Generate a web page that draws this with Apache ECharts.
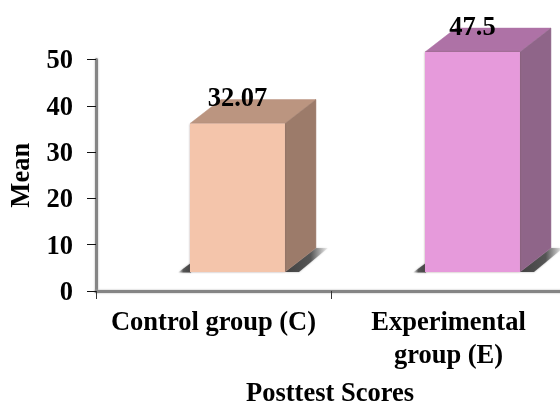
<!DOCTYPE html>
<html>
<head>
<meta charset="utf-8">
<style>html,body{margin:0;padding:0;background:#fff}#c{width:560px;height:401px}</style>
<script src="https://cdn.jsdelivr.net/npm/echarts@6/dist/echarts.min.js"></script>
</head>
<body>
<div id="c"></div>
<script>
const categories = ['Control group (C)', 'Experimental\ngroup (E)'];
const means = [32.07, 47.5];
const meanLabels = ['32.07', '47.5'];
const frontColors = ['#F4C5AB', '#E69ADB'];
const topColors = ['#BB9580', '#AE72A6'];
const sideColors = ['#9C7B6A', '#8F6589'];
const yTicks = [0, 10, 20, 30, 40, 50];

// The boxes stand on a raised floor in the oblique projection, so every
// front face starts a little above zero on the value axis.
const floorLift = 4.1;
const serif = '"Liberation Serif", "Times New Roman", serif';

// Floor shadow that fades out away from the box, x0 = 1 when it fades leftwards.
function shadowFill(x0) {
  return new echarts.graphic.LinearGradient(x0, 0, 1 - x0, 0, [
    { offset: 0, color: 'rgba(60,60,60,0.95)' },
    { offset: 0.6, color: 'rgba(70,70,70,0.85)' },
    { offset: 1, color: 'rgba(150,150,150,0.1)' }
  ]);
}

function renderBox(params, api) {
  const i = api.value(0);
  const band = api.size([1, 0])[0];
  const center = api.coord([i, 0])[0] + band * 0.102;
  const half = band * 0.202;
  const dx = 31, dy = 24;
  const left = center - half, right = center + half;
  const top = api.coord([i, api.value(1) + floorLift])[1];
  const base = api.coord([i, floorLift])[1];

  const poly = (points, fill) => ({
    type: 'polygon',
    shape: { points },
    style: { fill, stroke: fill, lineWidth: 0.5 }
  });
  const shadow = (points, x0) => ({
    type: 'polygon',
    shape: { points },
    style: { fill: shadowFill(x0), shadowBlur: 2, shadowColor: 'rgba(90,90,90,0.6)' }
  });

  return {
    type: 'group',
    children: [
      // floor shadows
      shadow([[left - 12, base + 0.5], [left + 1, base + 0.5], [left + 1, base - 9]], 1),
      shadow([[right, base], [right + dx, base - dy], [right + dx + 12, base - dy], [right + 14, base]], 0),
      // box faces
      poly([[left, top], [left + dx, top - dy], [right + dx, top - dy], [right, top]], topColors[i]),
      poly([[right, top], [right + dx, top - dy], [right + dx, base - dy], [right, base]], sideColors[i]),
      {
        type: 'rect',
        shape: { x: left, y: top, width: right - left, height: base - top },
        style: { fill: frontColors[i], shadowBlur: 2, shadowColor: 'rgba(120,90,90,0.6)' }
      },
      {
        type: 'text',
        style: {
          x: center, y: top - 24,
          text: meanLabels[i],
          font: 'bold 26.5px ' + serif,
          fill: '#000',
          align: 'center',
          verticalAlign: 'middle'
        }
      }
    ]
  };
}

const chart = echarts.init(document.getElementById('c'), null, { renderer: 'canvas' });
chart.setOption({
  animation: false,
  backgroundColor: '#fff',
  grid: { left: 96, right: -6, top: 59.5, bottom: 110, containLabel: false, outerBoundsMode: 'none' },
  xAxis: {
    type: 'category',
    data: categories,
    axisLine: { lineStyle: { color: '#858585', width: 3, shadowBlur: 2, shadowColor: '#aaa' } },
    axisTick: { show: true, length: 8, alignWithLabel: false, lineStyle: { color: '#333', width: 1 } },
    axisLabel: {
      interval: 0, margin: 16, color: '#000',
      fontFamily: serif, fontWeight: 'bold', fontSize: 26.5, lineHeight: 33
    },
    name: 'Posttest Scores',
    nameLocation: 'middle',
    nameGap: 90,
    nameTextStyle: { color: '#000', fontFamily: serif, fontWeight: 'bold', fontSize: 26.5, padding: [0, 2, 0, 0] }
  },
  yAxis: {
    type: 'value',
    min: yTicks[0],
    max: yTicks[yTicks.length - 1],
    interval: 10,
    splitLine: { show: false },
    axisLine: { show: true, lineStyle: { color: '#858585', width: 3, shadowBlur: 2, shadowColor: '#aaa' } },
    axisTick: { show: true, length: 9, lineStyle: { color: '#111', width: 1 } },
    axisLabel: {
      margin: 23, color: '#000',
      formatter: '{t|{value}}',
      rich: { t: { padding: [4, 0, 0, 0], fontFamily: serif, fontWeight: 'bold', fontSize: 26.5, color: '#000' } },
      fontFamily: serif, fontWeight: 'bold', fontSize: 26.5
    },
    name: 'Mean',
    nameLocation: 'middle',
    nameGap: 57,
    nameTextStyle: { color: '#000', fontFamily: serif, fontWeight: 'bold', fontSize: 26.5 }
  },
  series: [{
    type: 'custom',
    clip: false,
    renderItem: renderBox,
    encode: { x: 0, y: 1 },
    data: means.map((m, i) => [i, m])
  }]
});
</script>
</body>
</html>
